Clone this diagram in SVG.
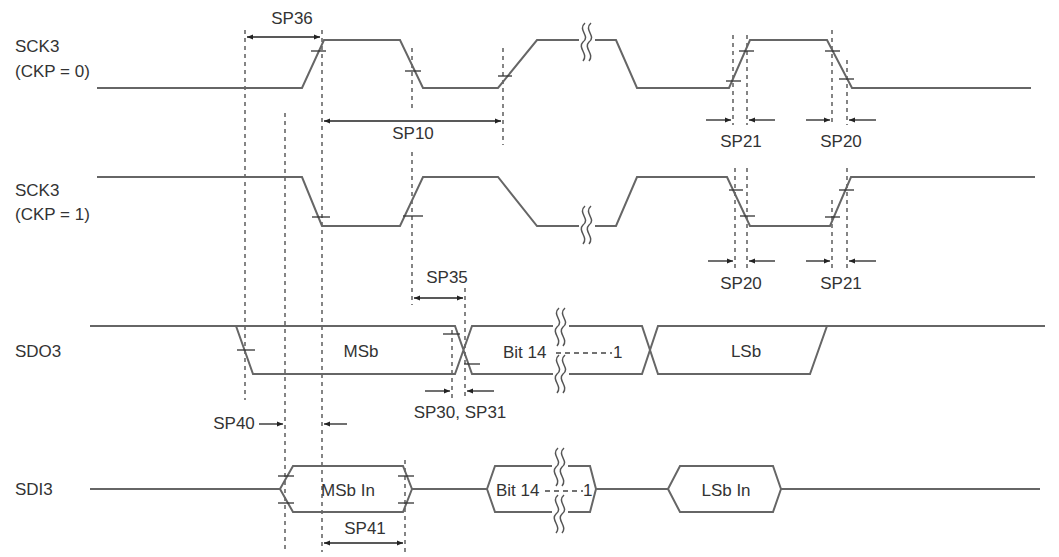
<svg xmlns="http://www.w3.org/2000/svg" width="1059" height="557" viewBox="0 0 1059 557">
<defs>
<marker id="ah" viewBox="0 0 10 10" refX="10" refY="5" markerWidth="8" markerHeight="6" orient="auto-start-reverse" markerUnits="userSpaceOnUse"><path d="M0,1 L10,5 L0,9 z" fill="#222"/></marker>
<g id="brk"><rect x="-8" y="-19" width="16" height="38" fill="#fff"/><path d="M-2,-19 C-10,-12 4,-6 -4,0 C-10,6 2,12 -4,19 M4,-19 C-4,-12 10,-6 2,0 C-4,6 8,12 2,19" fill="none" stroke="#555" stroke-width="1.5"/></g>
</defs>
<style>
.s{fill:none;stroke:#666;stroke-width:2}
.t{stroke:#333;stroke-width:1.3}
.d{stroke:#444;stroke-width:1.3;stroke-dasharray:4,4}
.a{stroke:#222;stroke-width:1.3;fill:none}
text{font-family:"Liberation Sans",Arial,sans-serif;font-size:17px;fill:#333}
.m{text-anchor:middle}
</style>
<rect width="1059" height="557" fill="#fff"/>
<g id="labels">
<text x="15" y="52">SCK3</text><text x="15" y="77">(CKP = 0)</text>
<text x="15" y="196">SCK3</text><text x="15" y="220">(CKP = 1)</text>
<text x="15" y="357">SDO3</text>
<text x="15" y="495">SDI3</text>
</g>
<g id="guides">
<line class="d" x1="245" y1="30" x2="245" y2="400"/>
<line class="d" x1="285" y1="113" x2="285" y2="552"/>
<line class="d" x1="322" y1="30" x2="322" y2="552"/>
<line class="d" x1="412" y1="48" x2="412" y2="112"/>
<line class="d" x1="412" y1="152" x2="412" y2="305"/>
<line class="d" x1="503" y1="48" x2="503" y2="145"/>
<line class="d" x1="733" y1="35" x2="733" y2="125"/>
<line class="d" x1="747" y1="35" x2="747" y2="125"/>
<line class="d" x1="832" y1="30" x2="832" y2="125"/>
<line class="d" x1="847" y1="60" x2="847" y2="125"/>
<line class="d" x1="735" y1="168" x2="735" y2="268"/>
<line class="d" x1="747" y1="168" x2="747" y2="268"/>
<line class="d" x1="832" y1="200" x2="832" y2="268"/>
<line class="d" x1="847" y1="168" x2="847" y2="268"/>
<line class="d" x1="465" y1="288" x2="465" y2="398"/>
<line class="d" x1="452" y1="330" x2="452" y2="398"/>
<line class="d" x1="405" y1="460" x2="405" y2="552"/>
</g>
<g id="sck0">
<path class="s" d="M97,88 H302 L324,40 H400 L423,88 H498 L537,40 H616 L637,88 H729 L750,40 H827 L852,88 H1031"/>
<use href="#brk" x="587" y="42"/>
<line class="t" x1="311" y1="51" x2="326" y2="51"/>
<line class="t" x1="405" y1="71" x2="421" y2="71"/>
<line class="t" x1="498" y1="76" x2="512" y2="76"/>
<line class="t" x1="726" y1="81" x2="741" y2="81"/>
<line class="t" x1="739" y1="51" x2="754" y2="51"/>
<line class="t" x1="825" y1="51" x2="840" y2="51"/>
<line class="t" x1="839" y1="79" x2="854" y2="79"/>
</g>
<g id="sck1">
<path class="s" d="M97,177 H302 L322,226 H400 L423,177 H498 L537,226 H616 L637,177 H727 L750,226 H830 L851,177 H1035"/>
<use href="#brk" x="587" y="225"/>
<line class="t" x1="312" y1="217" x2="330" y2="217"/>
<line class="t" x1="403" y1="216" x2="423" y2="216"/>
<line class="t" x1="729" y1="190" x2="743" y2="190"/>
<line class="t" x1="740" y1="216" x2="755" y2="216"/>
<line class="t" x1="825" y1="217" x2="840" y2="217"/>
<line class="t" x1="839" y1="190" x2="854" y2="190"/>
</g>
<g id="sdo">
<path class="s" d="M90,326 H236 L253,374 H455 L472,326 H642 L658,374 H810 L827,326 H1045 M236,326 H455 L472,374 H642 L658,326 H827"/>
<line class="t" x1="237" y1="350" x2="255" y2="350"/>
<line class="t" x1="443" y1="334" x2="460" y2="334"/>
<line class="t" x1="464" y1="364" x2="480" y2="364"/>
<use href="#brk" x="561" y="327"/>
<use href="#brk" x="561" y="374"/>
<text class="m" x="361" y="357">MSb</text>
<text x="503" y="358">Bit 14</text><line x1="556" y1="353" x2="612" y2="353" stroke="#444" stroke-width="1.5" stroke-dasharray="5,4"/><text x="613" y="358">1</text>
<text class="m" x="746" y="357">LSb</text>
</g>
<g id="sdi">
<path class="s" d="M90,489 H280 L293,466 H403 L412,489 H487 L495,466 H590 L596,489 H668 L680,466 H773 L781,489 H1040 M280,489 L293,512 H403 L412,489 M487,489 L495,512 H590 L596,489 M668,489 L680,512 H773 L781,489"/>
<line class="t" x1="278" y1="476" x2="294" y2="476"/>
<line class="t" x1="278" y1="503" x2="294" y2="503"/>
<line class="t" x1="398" y1="476" x2="414" y2="476"/>
<line class="t" x1="398" y1="503" x2="414" y2="503"/>
<use href="#brk" x="560" y="467"/>
<use href="#brk" x="560" y="514"/>
<text class="m" x="348" y="496">MSb In</text>
<text x="496" y="496">Bit 14</text><line x1="545" y1="491" x2="583" y2="491" stroke="#444" stroke-width="1.5" stroke-dasharray="5,4"/><text x="583" y="496">1</text>
<text class="m" x="726" y="496">LSb In</text>
</g>
<g id="connectors">
<line class="a" x1="247" y1="37" x2="320" y2="37" marker-start="url(#ah)" marker-end="url(#ah)"/>
<line class="a" x1="324" y1="121" x2="501" y2="121" marker-start="url(#ah)" marker-end="url(#ah)"/>
<line class="a" x1="706" y1="120" x2="731" y2="120" marker-end="url(#ah)"/>
<line class="a" x1="775" y1="120" x2="749" y2="120" marker-end="url(#ah)"/>
<line class="a" x1="806" y1="120" x2="830" y2="120" marker-end="url(#ah)"/>
<line class="a" x1="876" y1="120" x2="849" y2="120" marker-end="url(#ah)"/>
<line class="a" x1="708" y1="261" x2="733" y2="261" marker-end="url(#ah)"/>
<line class="a" x1="775" y1="261" x2="749" y2="261" marker-end="url(#ah)"/>
<line class="a" x1="806" y1="261" x2="830" y2="261" marker-end="url(#ah)"/>
<line class="a" x1="876" y1="261" x2="849" y2="261" marker-end="url(#ah)"/>
<line class="a" x1="414" y1="298" x2="463" y2="298" marker-start="url(#ah)" marker-end="url(#ah)"/>
<line class="a" x1="425" y1="391" x2="450" y2="391" marker-end="url(#ah)"/>
<line class="a" x1="494" y1="391" x2="467" y2="391" marker-end="url(#ah)"/>
<line class="a" x1="259" y1="424" x2="283" y2="424" marker-end="url(#ah)"/>
<line class="a" x1="347" y1="424" x2="324" y2="424" marker-end="url(#ah)"/>
<line class="a" x1="324" y1="543" x2="403" y2="543" marker-start="url(#ah)" marker-end="url(#ah)"/>
</g>
<g id="clabels">
<text class="m" x="292" y="24">SP36</text>
<text class="m" x="413" y="139">SP10</text>
<text class="m" x="741" y="147">SP21</text>
<text class="m" x="841" y="147">SP20</text>
<text class="m" x="741" y="289">SP20</text>
<text class="m" x="841" y="289">SP21</text>
<text class="m" x="447" y="283">SP35</text>
<text class="m" x="460" y="418">SP30, SP31</text>
<text class="m" x="234" y="429">SP40</text>
<text class="m" x="365" y="534">SP41</text>
</g>
</svg>
